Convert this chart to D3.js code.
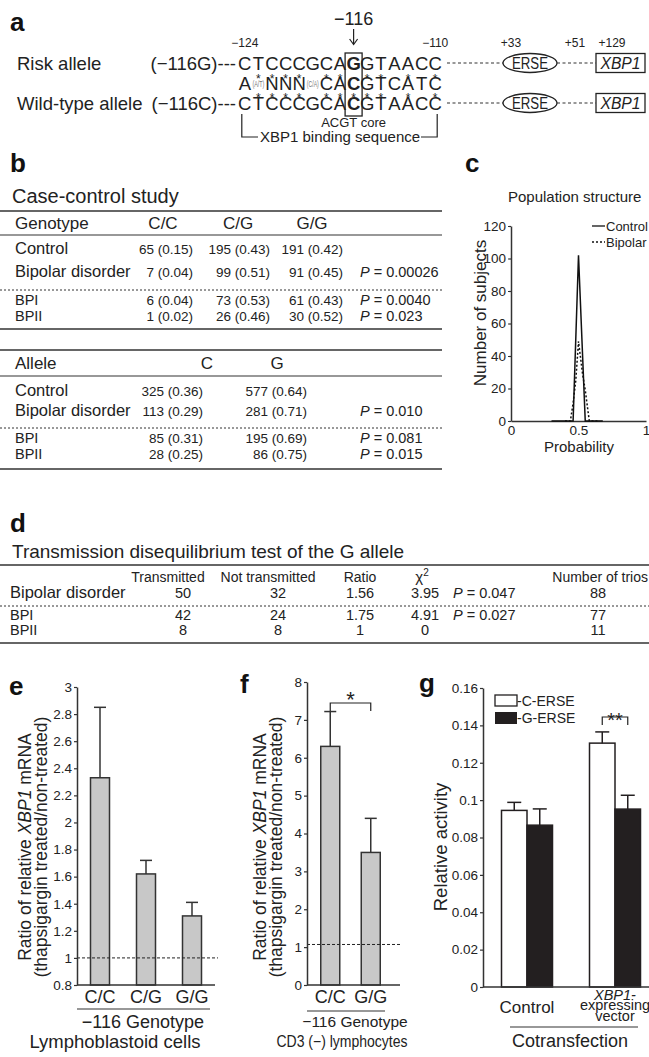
<!DOCTYPE html>
<html><head><meta charset="utf-8">
<script src="https://cdn.jsdelivr.net/npm/d3@7"></script>
<style>body{margin:0;background:#fff}svg text{font-family:'Liberation Sans',Arial,Helvetica,sans-serif}</style>
</head><body><svg id="fig" width="649" height="1057"></svg>
<script>
// ---------- DATA ----------
const seqRisk = ["C","T","C","C","C","G","C","A","G","G","T","A","A","C","C"];
const seqConsensus = ["A","(A/T)","N","N","N","(C/A)","C","A","C","G","T","C","A","T","C"];
const seqWild = ["C","T","C","C","C","G","C","A","C","G","T","A","A","C","C"];
const starsRisk = [1,2,3,4,6,7,9,10,12,14];
const starsWild = [1,2,3,4,6,7,8,9,10,12,14];
const snpIndex = 8;

const genoHeader = ["Genotype","C/C","C/G","G/G"];
const genoLabels = ["Control","Bipolar disorder","BPI","BPII"];
const genoCC = ["65 (0.15)","7 (0.04)","6 (0.04)","1 (0.02)"];
const genoCG = ["195 (0.43)","99 (0.51)","73 (0.53)","26 (0.46)"];
const genoGG = ["191 (0.42)","91 (0.45)","61 (0.43)","30 (0.52)"];
const genoP = ["","0.00026","0.0040","0.023"];

const alleleHeader = ["Allele","C","G"];
const alleleLabels = ["Control","Bipolar disorder","BPI","BPII"];
const alleleC = ["325 (0.36)","113 (0.29)","85 (0.31)","28 (0.25)"];
const alleleG = ["577 (0.64)","281 (0.71)","195 (0.69)","86 (0.75)"];
const alleleP = ["","0.010","0.081","0.015"];

const popControlX = [0.30,0.46,0.50,0.55,0.68];
const popControlY = [0,0,102,0,0];
const popBipolarX = [0.40,0.44,0.46,0.48,0.50,0.53,0.55,0.58,0.64];
const popBipolarY = [0,0,11,25,49,29,19,0,0];
const popYTicks = [0,20,40,60,80,100,120];
const popXTicks = [0,0.5,1];

const tdtHeader = ["Transmitted","Not transmitted","Ratio","\u03c7","Number of trios"];
const tdtLabels = ["Bipolar disorder","BPI","BPII"];
const tdtTrans = ["50","42","8"];
const tdtNot = ["32","24","8"];
const tdtRatio = ["1.56","1.75","1"];
const tdtChi = ["3.95","4.91","0"];
const tdtP = ["0.047","0.027",""];
const tdtTrios = ["88","77","11"];

const eCats = ["C/C","C/G","G/G"];
const eMeans = [2.33,1.62,1.31];
const eErr = [0.52,0.10,0.10];
const eTicks = [0.8,1,1.2,1.4,1.6,1.8,2,2.2,2.4,2.6,2.8,3];

const fCats = ["C/C","G/G"];
const fMeans = [6.3,3.5];
const fErr = [0.92,0.9];
const fTicks = [0,1,2,3,4,5,6,7,8];

const gGroups = ["Control","XBP1"];
const gSeries = ["-C-ERSE","-G-ERSE"];
const gC = [0.0945,0.1305];
const gCErr = [0.0043,0.0060];
const gG = [0.0866,0.0952];
const gGErr = [0.0087,0.0074];
const gTicks = [0,0.02,0.04,0.06,0.08,0.1,0.12,0.14,0.16];

// ---------- HELPERS ----------
const INK = "#222";
const svg = d3.select("#fig");
svg.append("rect").attr("width",649).attr("height",1057).attr("fill","#fff");
function T(p, s, x, y, o = {}) {
  const t = p.append("text").attr("x", x).attr("y", y)
    .attr("font-size", o.size || 14)
    .attr("text-anchor", o.anchor || "start")
    .attr("font-weight", o.weight || "normal")
    .attr("font-style", o.style || "normal")
    .attr("fill", o.fill || INK).text(s);
  if (o.len) t.attr("textLength", o.len).attr("lengthAdjust","spacingAndGlyphs");
  return t;
}
function PT(p, val, x, y, size, anchor) {
  const t = p.append("text").attr("x", x).attr("y", y).attr("font-size", size)
    .attr("text-anchor", anchor || "start").attr("fill", INK);
  t.append("tspan").attr("font-style","italic").text("P");
  t.append("tspan").text(" = " + val);
  return t;
}
function hline(p, x1, x2, y, w, dash) {
  const l = p.append("line").attr("x1",x1).attr("x2",x2).attr("y1",y).attr("y2",y)
    .attr("stroke","#333").attr("stroke-width",w || 1.5);
  if (dash) l.attr("stroke-dasharray", dash);
  return l;
}
function styleAxis(g, size) {
  g.attr("font-family","'Liberation Sans',Arial,sans-serif").attr("font-size", size || 13.5);
  g.select(".domain").attr("stroke","#333").attr("stroke-width",1.5);
  g.selectAll(".tick line").attr("stroke","#333").attr("stroke-width",1.2);
  g.selectAll(".tick text").attr("fill",INK);
}

// ---------- PANEL A ----------
const A = svg.append("g");
T(A,"a",10,31,{size:26,weight:"bold",fill:"#111"});
const sx = d3.scaleBand().domain(d3.range(seqRisk.length)).range([238,442]);
const cxs = i => sx(i) + sx.bandwidth()/2;
const rowsA = [
  {seq:seqRisk, y:70, label:"Risk allele", tag:"(\u2212116G)---"},
  {seq:seqConsensus, y:90},
  {seq:seqWild, y:110, label:"Wild-type allele", tag:"(\u2212116C)---"}
];
rowsA.forEach(r => {
  if (r.label) {
    T(A, r.label, 17, r.y, {size:18.5});
    T(A, r.tag, 236, r.y, {size:18.5, anchor:"end"});
  }
  r.seq.forEach((ch,i) => {
    if (ch.length > 1) {
      T(A, ch, cxs(i), r.y - 3, {size:8.5, anchor:"middle", fill:"#777", len:12});
    } else {
      T(A, ch, cxs(i), r.y, {size:18.5, anchor:"middle", weight: i===snpIndex ? "bold":"normal"});
    }
  });
  const midY = r.y - 7;
  if (r.label) {
    A.append("line").attr("x1",447).attr("x2",503).attr("y1",midY).attr("y2",midY)
      .attr("stroke","#333").attr("stroke-width",1.2).attr("stroke-dasharray","3,2.5");
    A.append("ellipse").attr("cx",530).attr("cy",midY).attr("rx",27).attr("ry",9.5)
      .attr("fill","none").attr("stroke","#222").attr("stroke-width",1.3);
    T(A,"ERSE",530,r.y - 1,{size:16,anchor:"middle",len:36});
    A.append("line").attr("x1",557).attr("x2",596).attr("y1",midY).attr("y2",midY)
      .attr("stroke","#333").attr("stroke-width",1.2).attr("stroke-dasharray","3,2.5");
    A.append("rect").attr("x",596).attr("y",midY-9.5).attr("width",49).attr("height",19)
      .attr("fill","none").attr("stroke","#222").attr("stroke-width",1.3);
    T(A,"XBP1",620.5,r.y - 1,{size:16,anchor:"middle",style:"italic",len:40});
  }
});
starsRisk.forEach(i => T(A,"*",cxs(i),83,{size:12,anchor:"middle"}));
starsWild.forEach(i => T(A,"*",cxs(i),102,{size:12,anchor:"middle"}));
A.append("rect").attr("x",cxs(snpIndex)-8.5).attr("y",53).attr("width",17).attr("height",63)
  .attr("fill","none").attr("stroke","#222").attr("stroke-width",1.3);
T(A,"\u2212116",cxs(snpIndex),25,{size:18,anchor:"middle"});
A.append("line").attr("x1",cxs(snpIndex)).attr("x2",cxs(snpIndex)).attr("y1",29).attr("y2",44)
  .attr("stroke","#222").attr("stroke-width",1.2);
A.append("path").attr("d",`M${cxs(snpIndex)-4},39 L${cxs(snpIndex)},44.5 L${cxs(snpIndex)+4},39`)
  .attr("fill","none").attr("stroke","#222").attr("stroke-width",1.2);
T(A,"\u2212124",cxs(0),47,{size:12,anchor:"middle"});
T(A,"\u2212110",cxs(14),47,{size:12,anchor:"middle"});
T(A,"+33",511,47,{size:12,anchor:"middle"});
T(A,"+51",575,47,{size:12,anchor:"middle"});
T(A,"+129",612,47,{size:12,anchor:"middle"});
T(A,"ACGT core",cxs(snpIndex),127,{size:13,anchor:"middle"});
A.append("path").attr("d",`M${cxs(0)-3},114 V137 H258`).attr("fill","none").attr("stroke","#222").attr("stroke-width",1.2);
A.append("path").attr("d",`M421,137 H${cxs(14)+2} V114`).attr("fill","none").attr("stroke","#222").attr("stroke-width",1.2);
T(A,"XBP1 binding sequence",340,142,{size:15,anchor:"middle"});

// ---------- PANEL B ----------
const B = svg.append("g");
T(B,"b",10,172,{size:26,weight:"bold",fill:"#111"});
T(B,"Case-control study",12,203,{size:20});
const TW = 442;
hline(B,0,TW,211,1.5);
const gCols = [163,238,312];
T(B,genoHeader[0],15,229,{size:17});
gCols.forEach((c,i)=>T(B,genoHeader[i+1],c,229,{size:17,anchor:"middle"}));
hline(B,0,TW,235,1.2);
const gRowY = [254,277,305,321];
const gRight = [193,270,343];
genoLabels.forEach((lab,i)=>{
  const big = i < 2;
  T(B,lab,15,gRowY[i],{size: big?16.5:14.5});
  T(B,genoCC[i],gRight[0],gRowY[i],{size:13.5,anchor:"end"});
  T(B,genoCG[i],gRight[1],gRowY[i],{size:13.5,anchor:"end"});
  T(B,genoGG[i],gRight[2],gRowY[i],{size:13.5,anchor:"end"});
  if (genoP[i]) PT(B,genoP[i],360,gRowY[i],14.5);
});
hline(B,0,TW,290,1,"2,2");
hline(B,0,TW,329,1.5);

hline(B,0,TW,350,1.5);
T(B,alleleHeader[0],15,369,{size:17});
T(B,alleleHeader[1],207,369,{size:17,anchor:"middle"});
T(B,alleleHeader[2],277,369,{size:17,anchor:"middle"});
hline(B,0,TW,376,1.2);
const aRowY = [396,416,443,459];
alleleLabels.forEach((lab,i)=>{
  const big = i < 2;
  T(B,lab,15,aRowY[i],{size: big?16.5:14.5});
  T(B,alleleC[i],203,aRowY[i],{size:13.5,anchor:"end"});
  T(B,alleleG[i],307,aRowY[i],{size:13.5,anchor:"end"});
  if (alleleP[i]) PT(B,alleleP[i],360,aRowY[i],14.5);
});
hline(B,0,TW,428,1,"2,2");
hline(B,0,TW,469,1.5);

// ---------- PANEL C ----------
const C = svg.append("g");
T(C,"c",465,172,{size:26,weight:"bold",fill:"#111"});
T(C,"Population structure",508,202,{size:15});
const cxS = d3.scaleLinear().domain([0,1]).range([511,646]);
const cyS = d3.scaleLinear().domain([0,120]).range([421,226]);
const cyAx = C.append("g").attr("transform","translate(511,0)")
  .call(d3.axisLeft(cyS).tickValues(popYTicks).tickSize(3).tickSizeOuter(0).tickPadding(2));
styleAxis(cyAx,13.5);
const cxAx = C.append("g").attr("transform","translate(0,421)")
  .call(d3.axisBottom(cxS).tickValues(popXTicks).tickSize(0).tickSizeOuter(0).tickPadding(4).tickFormat(d=>String(d)));
styleAxis(cxAx,13.5);
const lineGen = d3.line().x(d=>cxS(d[0])).y(d=>cyS(d[1]));
C.append("path").datum(popControlX.map((x,i)=>[x,popControlY[i]])).attr("d",lineGen)
  .attr("fill","none").attr("stroke","#111").attr("stroke-width",1.5);
C.append("path").datum(popBipolarX.map((x,i)=>[x,popBipolarY[i]])).attr("d",lineGen)
  .attr("fill","none").attr("stroke","#111").attr("stroke-width",1.5).attr("stroke-dasharray","2,2");
T(C,"Probability",579,452,{size:15,anchor:"middle"});
T(C,"Number of subjects",0,0,{size:17,anchor:"middle"}).attr("transform","translate(486,313) rotate(-90)");
C.append("line").attr("x1",592).attr("x2",605).attr("y1",226).attr("y2",226).attr("stroke","#111").attr("stroke-width",1.3);
T(C,"Control",606,231,{size:13});
C.append("line").attr("x1",592).attr("x2",605).attr("y1",242).attr("y2",242).attr("stroke","#111").attr("stroke-width",1.5).attr("stroke-dasharray","2,2");
T(C,"Bipolar",606,247,{size:13});

// ---------- PANEL D ----------
const D = svg.append("g");
T(D,"d",10,532,{size:26,weight:"bold",fill:"#111"});
T(D,"Transmission disequilibrium test of the G allele",12,558,{size:19});
hline(D,0,649,565,1.5);
const dCols = [183,278,360,425];
T(D,tdtHeader[0],168,582,{size:14,anchor:"middle"});
T(D,tdtHeader[1],268,582,{size:14,anchor:"middle"});
T(D,tdtHeader[2],360,582,{size:14,anchor:"middle"});
const chi = T(D,tdtHeader[3],422,582,{size:15,anchor:"middle"});
chi.append("tspan").attr("dy",-6).attr("font-size",10).text("2");
T(D,tdtHeader[4],648,582,{size:14,anchor:"end"});
const dRowY = [598,620,635];
tdtLabels.forEach((lab,i)=>{
  const big = i===0;
  T(D,lab,10,dRowY[i],{size: big?16.5:14.5});
  T(D,tdtTrans[i],dCols[0],dRowY[i],{size:14.5,anchor:"middle"});
  T(D,tdtNot[i],dCols[1],dRowY[i],{size:14.5,anchor:"middle"});
  T(D,tdtRatio[i],dCols[2],dRowY[i],{size:14.5,anchor:"middle"});
  T(D,tdtChi[i],dCols[3],dRowY[i],{size:14.5,anchor:"middle"});
  if (tdtP[i]) PT(D,tdtP[i],453,dRowY[i],14.5);
  T(D,tdtTrios[i],598,dRowY[i],{size:14.5,anchor:"middle"});
});
hline(D,0,649,606,1,"2,2");
hline(D,0,649,643,1.5);

// ---------- PANEL E ----------
const E = svg.append("g");
T(E,"e",9,695,{size:26,weight:"bold",fill:"#111"});
const eX = d3.scalePoint().domain(eCats).range([77,215]).padding(0.5);
const eY = d3.scaleLinear().domain([0.8,3]).range([985,687]);
const BW = 19;
E.selectAll("rect.bar").data(eCats).join("rect")
  .attr("x",d=>eX(d)-BW/2).attr("width",BW)
  .attr("y",(d,i)=>eY(eMeans[i])).attr("height",(d,i)=>eY(0.8)-eY(eMeans[i]))
  .attr("fill","#c8c8c8").attr("stroke","#333").attr("stroke-width",1.5);
eCats.forEach((c,i)=>{
  const x = eX(c), y0 = eY(eMeans[i]), y1 = eY(eMeans[i]+eErr[i]);
  E.append("line").attr("x1",x).attr("x2",x).attr("y1",y0).attr("y2",y1).attr("stroke","#333").attr("stroke-width",1.5);
  E.append("line").attr("x1",x-6).attr("x2",x+6).attr("y1",y1).attr("y2",y1).attr("stroke","#333").attr("stroke-width",1.5);
  T(E,c,x,1003,{size:18,anchor:"middle"});
});
E.append("line").attr("x1",77).attr("x2",218).attr("y1",eY(1)).attr("y2",eY(1))
  .attr("stroke","#222").attr("stroke-width",1).attr("stroke-dasharray","3,2");
E.append("line").attr("x1",77).attr("x2",215).attr("y1",eY(0.8)).attr("y2",eY(0.8)).attr("stroke","#333").attr("stroke-width",1.5);
const eAx = E.append("g").attr("transform","translate(77,0)")
  .call(d3.axisLeft(eY).tickValues(eTicks).tickSize(3).tickSizeOuter(0).tickPadding(2).tickFormat(d=>String(+d.toFixed(1))));
styleAxis(eAx,13.5);
hline(E,77,210,1009,1.2);
T(E,"\u2212116 Genotype",143,1028,{size:18,anchor:"middle"});
T(E,"Lymphoblastoid cells",115,1048,{size:18.5,anchor:"middle"});
const eyl = E.append("text").attr("transform","translate(31,847) rotate(-90)").attr("text-anchor","middle").attr("font-size",17.5).attr("fill",INK);
eyl.append("tspan").text("Ratio of relative ");
eyl.append("tspan").attr("font-style","italic").text("XBP1");
eyl.append("tspan").text(" mRNA");
T(E,"(thapsigargin treated/non-treated)",0,0,{size:17.5,anchor:"middle"}).attr("transform","translate(47,847) rotate(-90)");

// ---------- PANEL F ----------
const F = svg.append("g");
T(F,"f",240,693,{size:26,weight:"bold",fill:"#111"});
const fX = d3.scalePoint().domain(fCats).range([310,391]).padding(0.5);
const fY = d3.scaleLinear().domain([0,8]).range([985,682]);
F.selectAll("rect.bar").data(fCats).join("rect")
  .attr("x",d=>fX(d)-BW/2).attr("width",BW)
  .attr("y",(d,i)=>fY(fMeans[i])).attr("height",(d,i)=>fY(0)-fY(fMeans[i]))
  .attr("fill","#c8c8c8").attr("stroke","#333").attr("stroke-width",1.5);
fCats.forEach((c,i)=>{
  const x = fX(c), y0 = fY(fMeans[i]), y1 = fY(fMeans[i]+fErr[i]);
  F.append("line").attr("x1",x).attr("x2",x).attr("y1",y0).attr("y2",y1).attr("stroke","#333").attr("stroke-width",1.5);
  F.append("line").attr("x1",x-6).attr("x2",x+6).attr("y1",y1).attr("y2",y1).attr("stroke","#333").attr("stroke-width",1.5);
  T(F,c,x,1003,{size:18,anchor:"middle"});
});
F.append("line").attr("x1",307).attr("x2",401).attr("y1",fY(1.07)).attr("y2",fY(1.07))
  .attr("stroke","#222").attr("stroke-width",1).attr("stroke-dasharray","3,2");
F.append("line").attr("x1",307).attr("x2",400).attr("y1",fY(0)).attr("y2",fY(0)).attr("stroke","#333").attr("stroke-width",1.5);
const fAx = F.append("g").attr("transform","translate(307,0)")
  .call(d3.axisLeft(fY).tickValues(fTicks).tickSize(3).tickSizeOuter(0).tickPadding(2));
styleAxis(fAx,13.5);
F.append("path").attr("d",`M${fX("C/C")},711 V703 H${fX("G/G")} V711`).attr("fill","none").attr("stroke","#222").attr("stroke-width",1.2);
T(F,"*",(fX("C/C")+fX("G/G"))/2,707,{size:22,anchor:"middle"});
hline(F,307,385,1011,1.2);
T(F,"\u2212116 Genotype",355,1027,{size:15.5,anchor:"middle"});
T(F,"CD3 (\u2212) lymphocytes",342,1047,{size:16,anchor:"middle",len:131});
const fyl = F.append("text").attr("transform","translate(266,847) rotate(-90)").attr("text-anchor","middle").attr("font-size",17.5).attr("fill",INK);
fyl.append("tspan").text("Ratio of relative ");
fyl.append("tspan").attr("font-style","italic").text("XBP1");
fyl.append("tspan").text(" mRNA");
T(F,"(thapsigargin treated/non-treated)",0,0,{size:17.5,anchor:"middle"}).attr("transform","translate(282,847) rotate(-90)");

// ---------- PANEL G ----------
const G = svg.append("g");
T(G,"g",419,692,{size:26,weight:"bold",fill:"#111"});
const gX = d3.scalePoint().domain(gGroups).range([483,659]).padding(0.5);
const gSub = d3.scaleBand().domain(gSeries).range([-25.5,25.5]);
const gY = d3.scaleLinear().domain([0,0.16]).range([987,688]);
const gData = [];
gGroups.forEach((grp,i)=>{
  gData.push({grp, s:gSeries[0], v:gC[i], e:gCErr[i]});
  gData.push({grp, s:gSeries[1], v:gG[i], e:gGErr[i]});
});
G.selectAll("rect.bar").data(gData).join("rect")
  .attr("x",d=>gX(d.grp)+gSub(d.s)).attr("width",gSub.bandwidth())
  .attr("y",d=>gY(d.v)).attr("height",d=>gY(0)-gY(d.v))
  .attr("fill",d=>d.s===gSeries[0]?"#fff":"#231f20").attr("stroke","#231f20").attr("stroke-width",1.5);
gData.forEach(d=>{
  const x = gX(d.grp)+gSub(d.s)+gSub.bandwidth()/2, y0 = gY(d.v), y1 = gY(d.v+d.e);
  G.append("line").attr("x1",x).attr("x2",x).attr("y1",y0).attr("y2",y1).attr("stroke","#231f20").attr("stroke-width",1.5);
  G.append("line").attr("x1",x-7).attr("x2",x+7).attr("y1",y1).attr("y2",y1).attr("stroke","#231f20").attr("stroke-width",1.5);
});
G.append("line").attr("x1",483).attr("x2",649).attr("y1",gY(0)).attr("y2",gY(0)).attr("stroke","#333").attr("stroke-width",1.5);
const gAx = G.append("g").attr("transform","translate(483,0)")
  .call(d3.axisLeft(gY).tickValues(gTicks).tickSize(3).tickSizeOuter(0).tickPadding(2).tickFormat(d=>String(+d.toFixed(2))));
styleAxis(gAx,13.5);
// legend
G.append("rect").attr("x",495).attr("y",695).attr("width",22).attr("height",11).attr("fill","#fff").attr("stroke","#231f20").attr("stroke-width",1.3);
T(G,gSeries[0],517,706,{size:14});
G.append("rect").attr("x",495).attr("y",712).attr("width",22).attr("height",12).attr("fill","#231f20");
T(G,gSeries[1],517,723,{size:14});
// significance
const xb1 = gX("XBP1")+gSub(gSeries[0])+gSub.bandwidth()/2, xb2 = gX("XBP1")+gSub(gSeries[1])+gSub.bandwidth()/2;
G.append("path").attr("d",`M${xb1},725 V717 H${xb2} V725`).attr("fill","none").attr("stroke","#222").attr("stroke-width",1.2);
T(G,"**",(xb1+xb2)/2,727,{size:20,anchor:"middle"});
T(G,"Control",gX("Control"),1013,{size:17,anchor:"middle"});
T(G,"XBP1-",gX("XBP1"),1000,{size:14.5,anchor:"middle",style:"italic"});
T(G,"expressing",gX("XBP1"),1010,{size:14.5,anchor:"middle"});
T(G,"vector",gX("XBP1"),1021,{size:14.5,anchor:"middle"});
hline(G,510,638,1027,1.2);
T(G,"Cotransfection",570,1047,{size:18,anchor:"middle"});
T(G,"Relative activity",0,0,{size:18.5,anchor:"middle"}).attr("transform","translate(447,847) rotate(-90)");
</script></body></html>
